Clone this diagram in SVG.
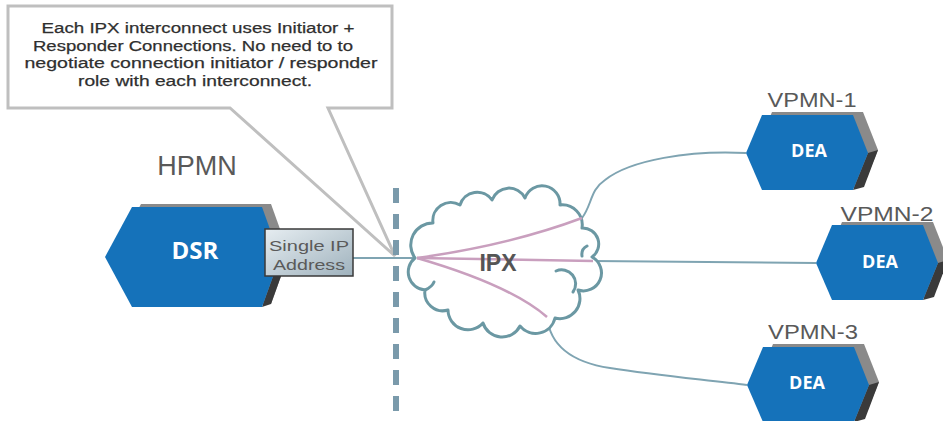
<svg xmlns="http://www.w3.org/2000/svg" width="943" height="421" viewBox="0 0 943 421">
<style>
.lbl{font-family:"Liberation Sans",Arial,sans-serif;fill:#595959;text-anchor:middle}
.call{font-family:"Liberation Sans",Arial,sans-serif;font-size:15.5px;fill:#2f2f2f;text-anchor:middle;stroke:#2f2f2f;stroke-width:0.25}
.node{font-family:"Open Sans","Liberation Sans",sans-serif;font-weight:bold;fill:#ffffff;text-anchor:middle}
.face{fill:#1572ba}
.back{fill:#8a8a8a}
.dark{fill:#3a3a3a}
.teal{fill:none;stroke:#7fa4b2;stroke-width:2}
.pink{fill:none;stroke:#c99fbe;stroke-width:2.5}
.cloud{fill:#ffffff;stroke:#6b98a3;stroke-width:3;stroke-linejoin:round}
.hook{fill:none;stroke:#6b98a3;stroke-width:3;stroke-linecap:round}
.ipt{font-family:"Liberation Sans",Arial,sans-serif;font-size:15px;fill:#5a5a5a;text-anchor:middle}
</style>
<defs>
<linearGradient id="ipg" x1="0" y1="0" x2="1" y2="1">
<stop offset="0" stop-color="#e6edf1"/>
<stop offset="1" stop-color="#9fb2bd"/>
</linearGradient>
<g id="deaShape">
<polygon class="back" points="10,35 26,-3 117,-3 132,35 117,72 26,72"/>
<polygon class="dark" points="122,38 132,35 118,72 107,75"/>
<polygon class="face" points="0,38 16,0 107,0 122,38 107,75 16,75"/>
</g>
</defs>

<g id="callout">
<path d="M8,6 H392 V108 H328 L395,256 L230,108 H8 Z" fill="#ffffff" stroke="#bfbfbf" stroke-width="3" stroke-linejoin="miter"/>
<text class="call" x="198" y="33" textLength="313" lengthAdjust="spacingAndGlyphs">Each IPX interconnect uses Initiator +</text>
<text class="call" x="193" y="50.5" textLength="320" lengthAdjust="spacingAndGlyphs">Responder Connections. No need to to</text>
<text class="call" x="201" y="68" textLength="353" lengthAdjust="spacingAndGlyphs">negotiate connection initiator / responder</text>
<text class="call" x="195" y="85.5" textLength="234" lengthAdjust="spacingAndGlyphs">role with each interconnect.</text>
</g>

<g id="boundary">
<line x1="396" y1="188" x2="396" y2="412" stroke="#7a9aab" stroke-width="6" stroke-dasharray="15 11"/>
</g>

<g id="connectors">
<path class="teal" d="M353,258 L417,258"/>
<path class="teal" d="M593,261 L816,263"/>
<path class="teal" d="M582,218 C592,205 590,190 605,180 C630,160 690,150 746,153"/>
<path class="teal" d="M547,317 C550,345 570,362 610,368 C660,376 710,380 747,385"/>
</g>

<g id="ipx">
<path class="cloud" d="M415,258 A22,22 0 0 1 433,223 A18,18 0 0 1 460,205 A18,18 0 0 1 492,200 A18,18 0 0 1 525,198 A18,18 0 0 1 560,205 A20,20 0 0 1 582,228 A16,16 0 0 1 592,257 A18,18 0 0 1 578,290 A20,20 0 0 1 555,318 A20,20 0 0 1 520,326 A20,20 0 0 1 483,323 A20,20 0 0 1 448,310 A18,18 0 0 1 425,290 A18,18 0 0 1 415,258 Z"/>
<path class="hook" d="M587,246 q-6,3 -5,10"/>
<path class="hook" d="M556,271 a14,14 0 0 1 17,21"/>
<path class="hook" d="M425,290 q7,-3 9,-8"/>
<path class="pink" d="M417,258 Q510,245 582,218"/>
<path class="pink" d="M417,258 L593,261"/>
<path class="pink" d="M417,258 Q510,285 547,317"/>
<text x="498" y="271" font-family="Liberation Sans,Arial,sans-serif" font-weight="bold" font-size="23" fill="#555555" text-anchor="middle">IPX</text>
</g>

<g id="hpmn">
<text class="lbl" x="197" y="175" font-size="27">HPMN</text>
<polygon class="back" points="114,254 141,204 271,204 289,254 271,304 141,304"/>
<polygon class="dark" points="280,257 289,254 271,304 262,307"/>
<polygon class="face" points="105,257 132,207 262,207 280,257 262,307 132,307"/>
<text class="node" x="195" y="259" font-size="24">DSR</text>
</g>

<g id="single-ip">
<rect x="265" y="229" width="88" height="47" fill="url(#ipg)" stroke="#3a3a3a" stroke-width="1.5"/>
<text class="ipt" x="309" y="251" textLength="80" lengthAdjust="spacingAndGlyphs">Single IP</text>
<text class="ipt" x="309" y="270" textLength="72" lengthAdjust="spacingAndGlyphs">Address</text>
</g>

<g id="vpmn1">
<text class="lbl" x="812" y="107" font-size="20" textLength="89" lengthAdjust="spacingAndGlyphs">VPMN-1</text>
<g transform="translate(746,115)">
<use href="#deaShape"/>
<text class="node" x="63" y="42" font-size="18">DEA</text>
</g>
</g>

<g id="vpmn2">
<text class="lbl" x="887" y="221" font-size="20" textLength="93" lengthAdjust="spacingAndGlyphs">VPMN-2</text>
<g transform="translate(816,225)">
<use href="#deaShape"/>
<text class="node" x="64" y="43" font-size="18">DEA</text>
</g>
</g>

<g id="vpmn3">
<text class="lbl" x="813" y="339" font-size="20" textLength="90" lengthAdjust="spacingAndGlyphs">VPMN-3</text>
<g transform="translate(747,347)">
<use href="#deaShape"/>
<text class="node" x="60" y="42" font-size="18">DEA</text>
</g>
</g>
</svg>
